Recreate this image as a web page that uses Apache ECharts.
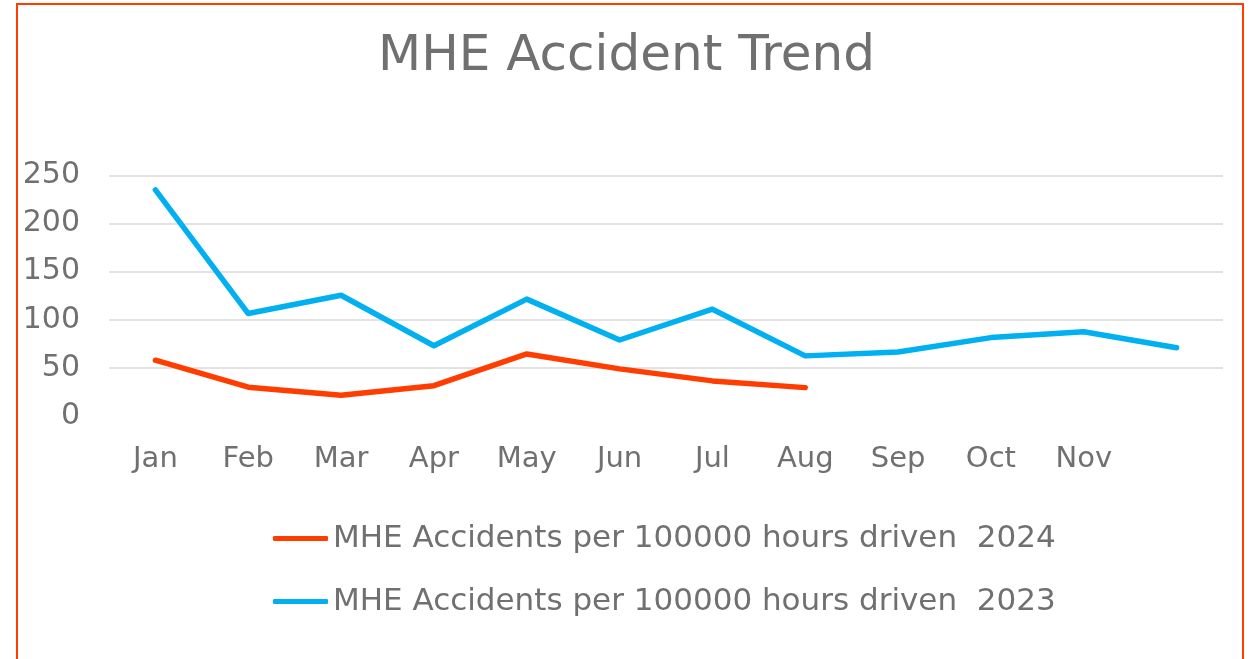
<!DOCTYPE html>
<html>
<head>
<meta charset="utf-8">
<script src="https://cdn.jsdelivr.net/npm/echarts@6/dist/echarts.min.js"></script>
<style>
html,body{margin:0;padding:0;background:#fff;width:1253px;height:659px;overflow:hidden;}
#frame{position:absolute;left:16px;top:3px;width:1228px;height:700px;border:2px solid #FF3D00;box-sizing:border-box;}
#chart{position:absolute;left:0;top:0;width:1253px;height:659px;}
</style>
</head>
<body>
<div id="frame"></div>
<div id="chart"></div>
<script>
const titleText = 'MHE Accident Trend';
const categories = ['Jan','Feb','Mar','Apr','May','Jun','Jul','Aug','Sep','Oct','Nov',''];
const name2024 = 'MHE Accidents per 100000 hours driven  2024';
const name2023 = 'MHE Accidents per 100000 hours driven  2023';
const values2024 = [58, 30, 21.5, 31.5, 64.5, 49, 36.5, 29.5];
const values2023 = [235, 106.5, 125.5, 73, 121.5, 79, 111, 62.5, 66.5, 81.5, 87.5, 71];
const yTicks = [0, 50, 100, 150, 200, 250];

const FONT = 'DejaVu Sans';
const TXT = '#707070';

const gridColors = yTicks.map((v, i) => i === 0 ? 'rgba(0,0,0,0)' : '#D9D9D9');

const chart = echarts.init(document.getElementById('chart'), null, {renderer:'canvas'});
chart.setOption({
  backgroundColor: 'transparent',
  title: {
    text: titleText, left: 'center', top: 27,
    textStyle: {fontFamily: FONT, fontSize: 50, fontWeight: 'normal', color: TXT}
  },
  grid: {left: 109, right: 30, top: 175.5, bottom: 243, containLabel: false},
  xAxis: {
    type: 'category', data: categories, boundaryGap: true,
    axisLine: {show: false}, axisTick: {show: false},
    axisLabel: {fontFamily: FONT, fontSize: 29, color: TXT, margin: 29}
  },
  yAxis: {
    type: 'value', min: yTicks[0], max: yTicks[yTicks.length-1], interval: 50,
    axisLine: {show: false}, axisTick: {show: false},
    axisLabel: {fontFamily: FONT, fontSize: 30, color: TXT, margin: 29, showMinLabel: true},
    splitLine: {show: true, lineStyle: {color: gridColors, width: 1.5}},
  },
  legend: {
    orient: 'vertical', left: 273, top: 523, itemGap: 32, padding: 0,
    itemWidth: 55, itemHeight: 5, icon: 'roundRect',
    data: [name2024, name2023],
    textStyle: {fontFamily: FONT, fontSize: 31, color: TXT}
  },
  series: [
    {name: name2023, type: 'line', data: values2023, showSymbol: false, symbol: 'none',
     lineStyle: {color: '#00B0F0', width: 5.5, cap: 'round', join: 'round'}, itemStyle: {color: '#00B0F0'}},
    {name: name2024, type: 'line', data: values2024, showSymbol: false, symbol: 'none',
     lineStyle: {color: '#FF3D00', width: 5.5, cap: 'round', join: 'round'}, itemStyle: {color: '#FF3D00'}}
  ],
  animation: false
});
</script>
</body>
</html>
